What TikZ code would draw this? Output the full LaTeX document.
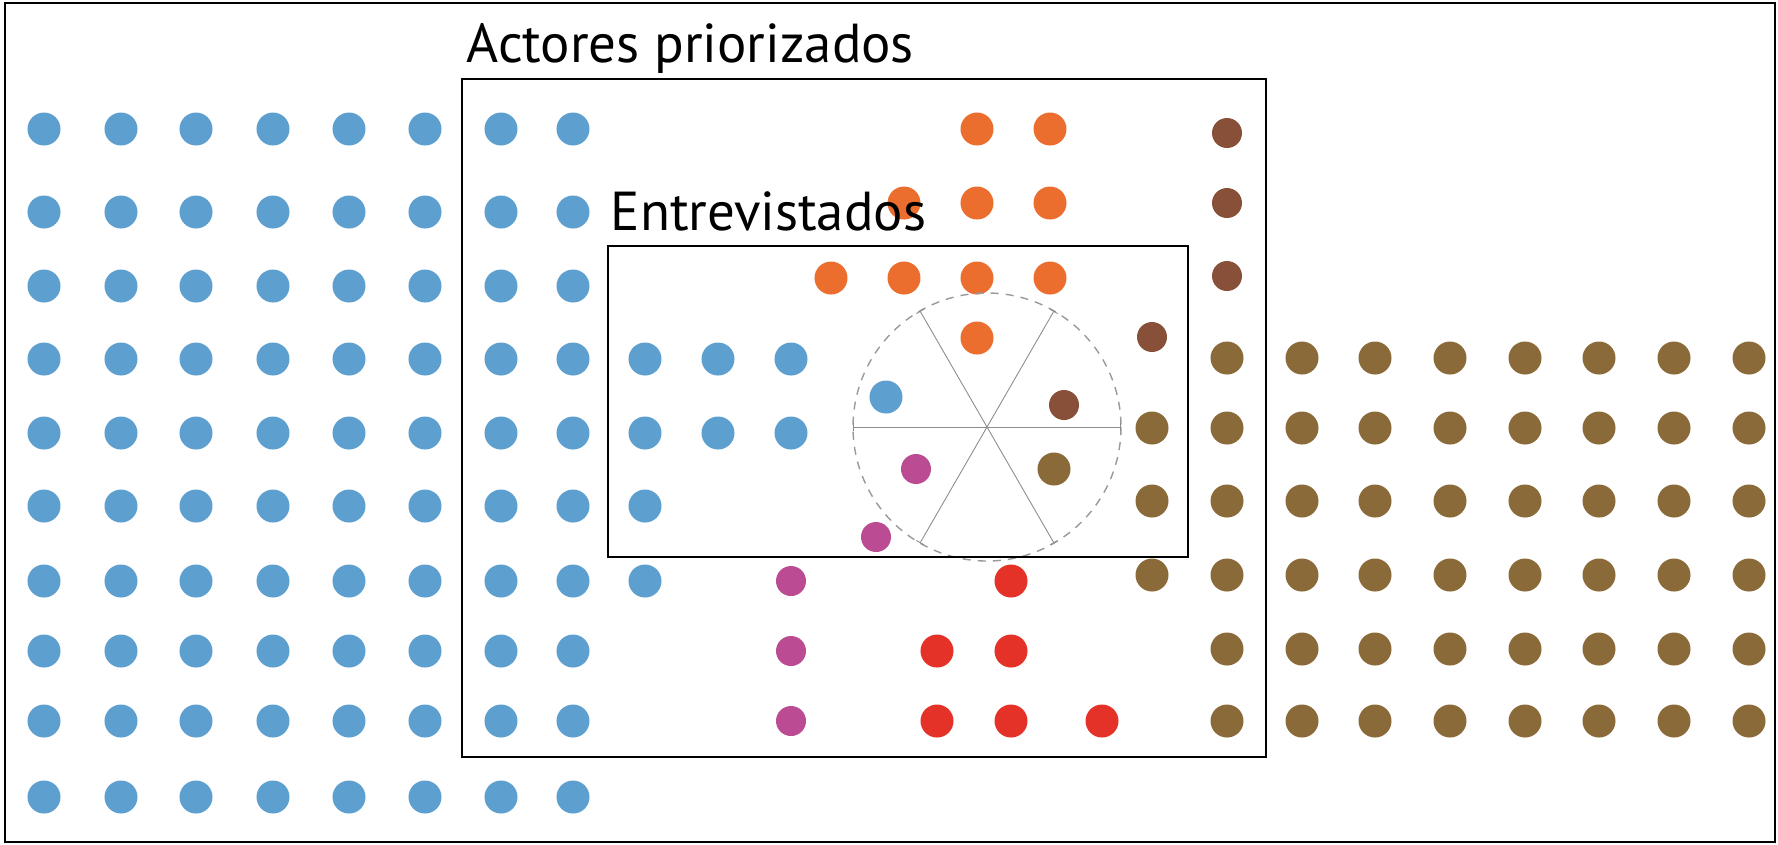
\documentclass[tikz,border=0pt]{standalone}
\usepackage{fontspec}
\setmainfont{PT Sans}
\usetikzlibrary{arrows.meta}
\definecolor{azul}{HTML}{5DA0CF}
\definecolor{naranja}{HTML}{EB6E2E}
\definecolor{cafe}{HTML}{8B6A3A}
\definecolor{marron}{HTML}{885038}
\definecolor{magenta}{HTML}{BB4B93}
\definecolor{rojo}{HTML}{E43228}

\begin{document}
\begin{tikzpicture}[x=0.01cm, y=-0.01cm]
    \tikzstyle{actor} = [circle, inner sep=0pt, minimum size=0.33cm]
    \tikzstyle{smallactor} = [actor, minimum size=0.30cm]
    \tikzstyle{frame} = [draw=black, line width=0.7pt]
    \tikzstyle{title} = [anchor=base west, inner sep=0pt, font=\fontsize{15.6}{18}\selectfont]
    \tikzstyle{spoke} = [draw=black!45, line width=0.25pt, {Bar[width=2.5pt]}-{Bar[width=2.5pt]}]

    \useasboundingbox (0,0) rectangle (1778,844);

    % blue actors
    \foreach \x [count=\i] in {44,121,196,273,349,425,501,573}
        \foreach \y [count=\j] in {129,212,286,359,433,506,581,651,721,797}
            \node[actor, fill=azul] (azul-\i-\j) at (\x,\y) {};
    \foreach \x/\y [count=\k] in {645/359,645/433,645/506,645/581,718/359,718/433,791/359,791/433,886/397}
        \node[actor, fill=azul] (azul-\k) at (\x,\y) {};

    % brown actors
    \foreach \x [count=\i] in {1227,1302,1375,1450,1525,1599,1674,1749}
        \foreach \y [count=\j] in {358,428,501,575,649,721}
            \node[actor, fill=cafe] (cafe-\i-\j) at (\x,\y) {};
    \foreach \x/\y [count=\k] in {1152/428,1152/501,1152/575,1054/469}
        \node[actor, fill=cafe] (cafe-\k) at (\x,\y) {};

    % orange, dark brown, magenta, red
    \foreach \x/\y [count=\k] in {977/129,1050/129,904/203,977/203,1050/203,831/278,904/278,977/278,1050/278,977/338}
        \node[actor, fill=naranja] (naranja-\k) at (\x,\y) {};
    \foreach \x/\y [count=\k] in {1227/133,1227/203,1227/276,1152/337,1064/405}
        \node[smallactor, fill=marron] (marron-\k) at (\x,\y) {};
    \foreach \x/\y [count=\k] in {791/581,791/651,791/721,876/537,916/469}
        \node[smallactor, fill=magenta] (magenta-\k) at (\x,\y) {};
    \foreach \x/\y [count=\k] in {1011/581,937/651,1011/651,937/721,1011/721,1102/721}
        \node[actor, fill=rojo] (rojo-\k) at (\x,\y) {};

    % interview circle
    \coordinate (centro) at (987,427);
    \draw[black!40, line width=0.4pt, dash pattern=on 2.3pt off 2pt] (centro) circle (134);
    \foreach \a in {0,60,120}
        \draw[spoke] (centro) ++(\a:134) -- ++(\a+180:268);

    % boxes
    \draw[frame] (5,3) rectangle (1775,842);
    \draw[frame] (462,79) rectangle (1266,757);
    \draw[frame] (608,246) rectangle (1188,557);

    \node[title] (priorizados) at (466,62) {Actores priorizados};
    \node[title] (entrevistados) at (610,230) {Entrevistados};
\end{tikzpicture}
\end{document}
